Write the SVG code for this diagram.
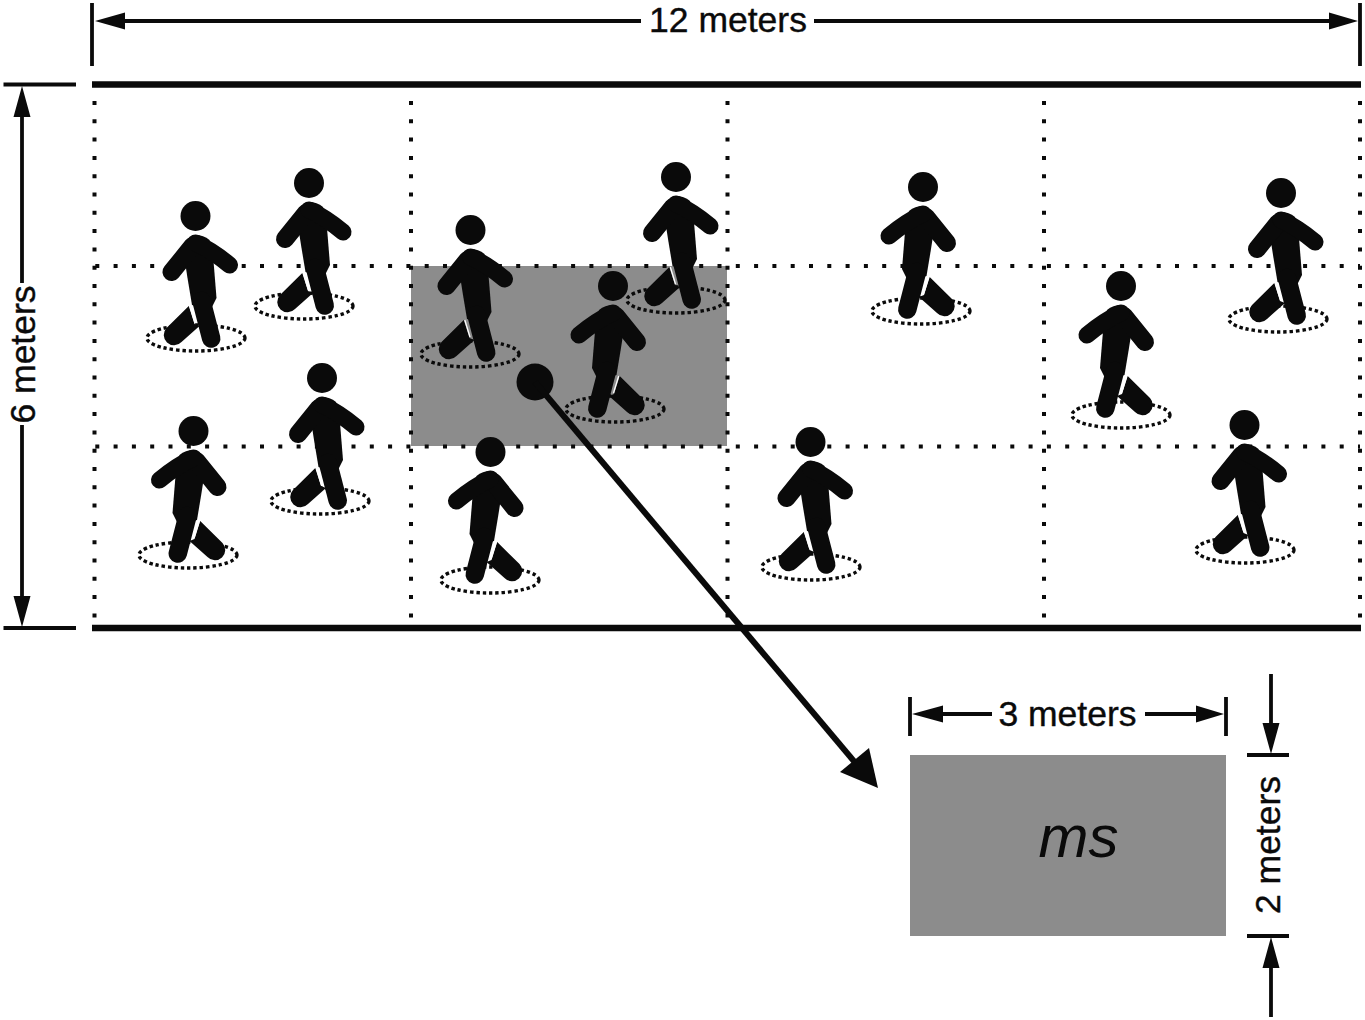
<svg xmlns="http://www.w3.org/2000/svg" xmlns:xlink="http://www.w3.org/1999/xlink" width="1365" height="1020" viewBox="0 0 1365 1020">
<style>
.t{font-family:"Liberation Sans",Arial,sans-serif;font-size:35.500px;fill:#0a0a0a;stroke:#0a0a0a;stroke-width:0.4;text-anchor:middle}
.ln{stroke:#0a0a0a;stroke-width:3.800;fill:none}
.wall{stroke:#0a0a0a;stroke-width:6.500;fill:none}
.grid{stroke:#0a0a0a;stroke-width:4;stroke-dasharray:4 14.300;fill:none}
.spot{stroke:#0a0a0a;stroke-width:3.400;stroke-dasharray:3.400 2.900;fill:none}
.ah{fill:#0a0a0a}
.limb{stroke:#0a0a0a;fill:none;stroke-linecap:round;stroke-linejoin:round}
</style>
<defs>
<g id="walker">
<circle cx="0" cy="0" r="15" fill="#0a0a0a"/>
<path d="M-6.700 90L-1 108L4 110L-14 126A9.500 9.500 0 0 1 -29 112Z" fill="#0a0a0a"/>
<path d="M-5.700 90L-0.500 107" stroke="#fff" stroke-width="1.300" fill="none"/>
<path d="M-12 36L0 19Q8 19 14 24L18 45L21 82L15 94L-3.500 89L-8 62Z" fill="#0a0a0a"/>
<path d="M-3 30L-24 56" class="limb" stroke-width="18"/>
<path d="M0 27Q16 34 34 49" class="limb" stroke-width="17"/>
<path d="M6 85L15.700 122.500" class="limb" stroke-width="18.500"/>
</g>
</defs>
<rect width="1365" height="1020" fill="#fff"/>
<rect id="cell-highlight" x="411" y="266" width="316" height="180" fill="#8c8c8c"/>
<g id="grid">
<path class="grid" d="M94.500 101V618M411 101V618M727.500 101V618M1044 101V618M1360 101V618M95.300 266H1360M95.300 446.500H1360"/>
</g>
<g id="walls">
<path class="wall" d="M92 84.500H1361M92 628H1361"/>
</g>
<g id="p1"><ellipse class="spot" cx="196" cy="338" rx="49" ry="13"/><use xlink:href="#walker" href="#walker" transform="translate(195.500 216)"/></g>
<g id="p2"><ellipse class="spot" cx="304" cy="306" rx="49" ry="13"/><use xlink:href="#walker" href="#walker" transform="translate(309 183)"/></g>
<g id="p3"><ellipse class="spot" cx="470" cy="354" rx="49" ry="13"/><use xlink:href="#walker" href="#walker" transform="translate(470.500 230)"/></g>
<g id="p4"><ellipse class="spot" cx="676" cy="300" rx="49" ry="13"/><use xlink:href="#walker" href="#walker" transform="translate(676 177)"/></g>
<g id="p5"><ellipse class="spot" cx="921" cy="311" rx="49" ry="13"/><use xlink:href="#walker" href="#walker" transform="translate(923 187) scale(-1 1)"/></g>
<g id="p6"><ellipse class="spot" cx="1278" cy="319" rx="49" ry="13"/><use xlink:href="#walker" href="#walker" transform="translate(1281 193)"/></g>
<g id="p7"><ellipse class="spot" cx="1121" cy="415" rx="49" ry="13"/><use xlink:href="#walker" href="#walker" transform="translate(1121 286) scale(-1 1)"/></g>
<g id="p8"><ellipse class="spot" cx="615" cy="409" rx="49" ry="13"/><use xlink:href="#walker" href="#walker" transform="translate(613 286) scale(-1 1)"/></g>
<g id="p9"><ellipse class="spot" cx="188" cy="555" rx="49" ry="13"/><use xlink:href="#walker" href="#walker" transform="translate(193.500 431) scale(-1 1)"/></g>
<g id="p10"><ellipse class="spot" cx="320" cy="501" rx="49" ry="13"/><use xlink:href="#walker" href="#walker" transform="translate(322 378)"/></g>
<g id="p11"><ellipse class="spot" cx="490" cy="580" rx="49" ry="13"/><use xlink:href="#walker" href="#walker" transform="translate(490.500 452) scale(-1 1)"/></g>
<g id="p12"><ellipse class="spot" cx="811" cy="567" rx="49" ry="13"/><use xlink:href="#walker" href="#walker" transform="translate(810.500 442)"/></g>
<g id="p13"><ellipse class="spot" cx="1245" cy="550" rx="49" ry="13"/><use xlink:href="#walker" href="#walker" transform="translate(1244.500 425)"/></g>
<g id="connectors">
<path class="ln" d="M92 3V66M1360 3V66M120 21H641M814 21H1335"/>
<path class="ah" d="M95 21L125 12.500V29.500ZM1358 21L1329 12.500V29.500Z"/>
<path class="ln" d="M3.500 84.500H76M3.500 628H76M22 112V283M22 425V600"/>
<path class="ah" d="M22 86L13.500 117H30.500ZM22 627L13.500 596H30.500Z"/>
<path class="ln" d="M910 697V736M1226 697V736M940 714H992M1145 714H1198M1247 755H1289M1247 936H1289M1271 674V728M1271 964V1017"/>
<path class="ah" d="M912 714L943 705.500V722.500ZM1224 714L1196 705.500V722.500ZM1271 754L1262.500 723H1279.500ZM1271 937L1262.500 968H1279.500Z"/>
<circle cx="535" cy="382" r="18.500" fill="#0a0a0a"/>
<path d="M535 382L858 766" stroke="#0a0a0a" stroke-width="6" fill="none"/>
<path class="ah" d="M878 788L869 748L840 772Z"/>
</g>
<g id="target">
<rect x="910" y="755" width="316" height="181" fill="#8c8c8c"/>
<text x="1078.500" y="857" style="font-size:60px;font-style:italic;stroke-width:0" class="t">ms</text>
</g>
<g id="labels">
<text class="t" x="728" y="32">12 meters</text>
<text class="t" transform="translate(35 354.500) rotate(-90)">6 meters</text>
<text class="t" x="1067.500" y="726">3 meters</text>
<text class="t" transform="translate(1280 845) rotate(-90)">2 meters</text>
</g>
</svg>
